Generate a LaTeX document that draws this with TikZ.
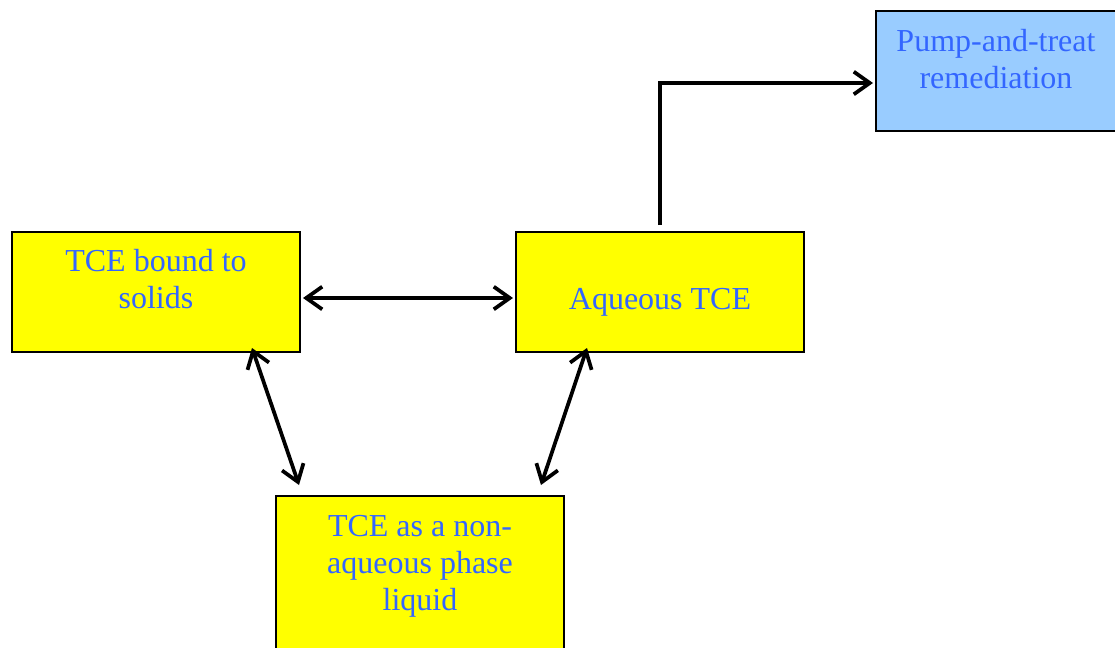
\documentclass[tikz,border=0pt]{standalone}
\usepackage{fontspec}
\setmainfont{Liberation Serif}
\usetikzlibrary{arrows.meta,calc}
\definecolor{txtblue}{RGB}{51,102,255}
\definecolor{boxyellow}{RGB}{255,255,0}
\definecolor{boxblue}{RGB}{153,204,255}
\tikzset{
  box/.style={draw=black, line width=1.5pt, minimum width=216pt, minimum height=90pt, inner sep=0pt, fill=boxyellow},
  lbl/.style={text=txtblue, align=center, inner sep=0pt, anchor=base, font=\fontsize{24}{27.5}\selectfont},
  conn/.style={line width=2.8pt, draw=black},
  tip/.style={-{Straight Barb[length=12pt,width=17pt,line width=2.8pt]}},
  tips/.style={{Straight Barb[length=12pt,width=17pt,line width=2.8pt]}-{Straight Barb[length=12pt,width=17pt,line width=2.8pt]}}
}
\begin{document}
\begin{tikzpicture}[x=0.75pt,y=-0.75pt]
\useasboundingbox (0,0) rectangle (1115,647);
\clip (0,0) rectangle (1115,647);
\node[box] (solids) at (156,292) {};
\node[box] (aq) at (660,292) {};
\node[box, fill=boxblue, minimum width=180pt] (pump) at (996,71) {};
\node[box, minimum height=120pt] (napl) at (420,576) {};
\node[lbl] (tsolids) at (156,308) {TCE bound to\\solids};
\node[lbl] (taq) at (660,309) {Aqueous TCE};
\node[lbl] (tpump) at (996,88) {Pump-and-treat\\remediation};
\node[lbl] (tnapl) at (420,610) {TCE as a non-\\aqueous phase\\liquid};
\draw[conn,tips] ($(solids.east)+(2,6)$) -- ($(aq.west)+(-2,6)$);
\draw[conn,tip] ($(aq.north)+(0,-6)$) |- ($(pump.west)+(-2,12)$);
\draw[conn,tips] ($(solids.south)+(96,-5)$) -- ($(napl.north)+(-121,-10)$);
\draw[conn,tips] ($(aq.south)+(-73,-5)$) -- ($(napl.north)+(121,-10)$);
\end{tikzpicture}
\end{document}
